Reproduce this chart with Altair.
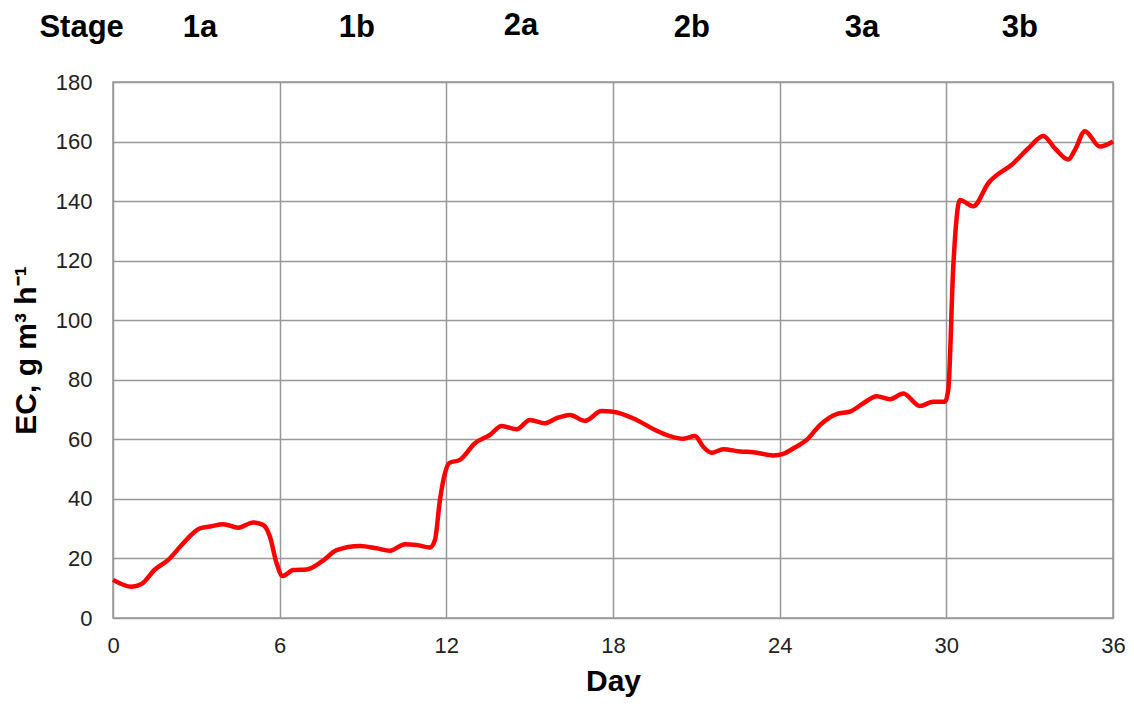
import altair as alt
import pandas as pd

days = [0.0, 0.67, 1.03, 1.51, 1.99, 2.47, 3.13, 3.49, 3.97, 4.51, 5.05, 5.41, 5.65, 5.89, 6.11,
        6.49, 6.97, 7.51, 8.05, 8.89, 9.49, 9.97, 10.51, 10.93, 11.41, 11.59, 11.77, 11.95, 12.11,
        12.49, 13.03, 13.57, 13.99, 14.53, 15.01, 15.55, 15.97, 16.45, 16.99, 17.59, 18.01, 18.85,
        19.57, 20.05, 20.53, 20.95, 21.25, 21.55, 21.97, 22.57, 23.05, 23.77, 24.13, 24.5, 24.97,
        25.45, 26.05, 26.53, 27.01, 27.49, 27.97, 28.45, 29.05, 29.53, 29.95, 30.07, 30.25, 30.49,
        30.97, 31.51, 32.41, 32.95, 33.49, 33.91, 34.39, 34.63, 34.99, 35.53, 36.0]
ec = [12.8, 10.5, 11.4, 16.3, 19.5, 24.5, 30.1, 30.7, 31.5, 30.3, 32.1, 31.2, 27.3, 18.4, 14.1,
      16.1, 16.3, 18.9, 22.8, 24.2, 23.4, 22.6, 24.8, 24.5, 23.7, 26.2, 39.6, 48.6, 52.1,
      53.1, 58.7, 61.5, 64.5, 63.4, 66.5, 65.4, 67.1, 68.2, 66.2, 69.5, 69.3, 66.5,
      62.9, 61.1, 60.2, 61.1, 57.5, 55.5, 56.7, 55.9, 55.7, 54.6, 55.1, 57.0, 59.8,
      64.8, 68.5, 69.3, 72.1, 74.5, 73.5, 75.4, 71.2, 72.6, 72.6, 76.6, 118.0, 140.4,
      138.3, 146.0, 152.7, 157.7, 161.9, 157.7, 154.0, 157.2, 163.5, 158.3, 160.0]

stage_labels = ["Stage", "1a", "1b", "2a", "2b", "3a", "3b"]
stage_x = [-1.13, 3.13, 8.78, 14.69, 20.84, 26.96, 32.65]
stage_y = [198.3, 198.3, 198.3, 198.9, 198.3, 198.3, 198.3]

x_ticks = [0, 6, 12, 18, 24, 30, 36]
y_ticks = [0, 20, 40, 60, 80, 100, 120, 140, 160, 180]

df = pd.DataFrame({"day": days, "ec": ec})
sdf = pd.DataFrame({"label": stage_labels, "x": stage_x, "y": stage_y})

FONT = "Liberation Sans"

xscale = alt.Scale(domain=[0, 36], nice=False, zero=False)
yscale = alt.Scale(domain=[0, 180], nice=False)

line = alt.Chart(df).mark_line(color="#ff0000", strokeWidth=4.5, interpolate="monotone").encode(
    x=alt.X("day:Q", scale=xscale,
            axis=alt.Axis(values=x_ticks, title="Day", grid=True, gridColor="#999999", gridWidth=1.5,
                          ticks=False, domain=False, labelFontSize=22, labelColor="#222222",
                          labelFont=FONT, labelPadding=17, labelFlush=False, titleFont=FONT,
                          titleFontSize=30, titleFontWeight="bold", titlePadding=10,
                          titleColor="#000000")),
    y=alt.Y("ec:Q", scale=yscale,
            axis=alt.Axis(values=y_ticks, title="EC, g m³ h⁻¹", grid=True, gridColor="#999999",
                          gridWidth=1.5, ticks=False, domain=False, labelFontSize=22,
                          labelColor="#222222", labelFont=FONT, labelPadding=21, labelFlush=False,
                          titleFont=FONT, titleFontSize=30, titleFontWeight="bold",
                          titlePadding=14, titleColor="#000000")),
)

stages = alt.Chart(sdf).mark_text(font=FONT, fontSize=31, fontWeight="bold", color="#000000",
                                  baseline="middle", align="center").encode(
    x=alt.X("x:Q", scale=xscale),
    y=alt.Y("y:Q", scale=yscale),
    text="label:N",
)

chart = alt.layer(line, stages).properties(
    width=1000, height=536,
    padding={"left": 105, "top": 74, "right": 13, "bottom": 80},
    autosize=alt.AutoSizeParams(type="none"),
).configure_view(stroke="#999999", strokeWidth=1.5)

chart.save("out.html", embed_options={"renderer": "svg", "actions": False})
